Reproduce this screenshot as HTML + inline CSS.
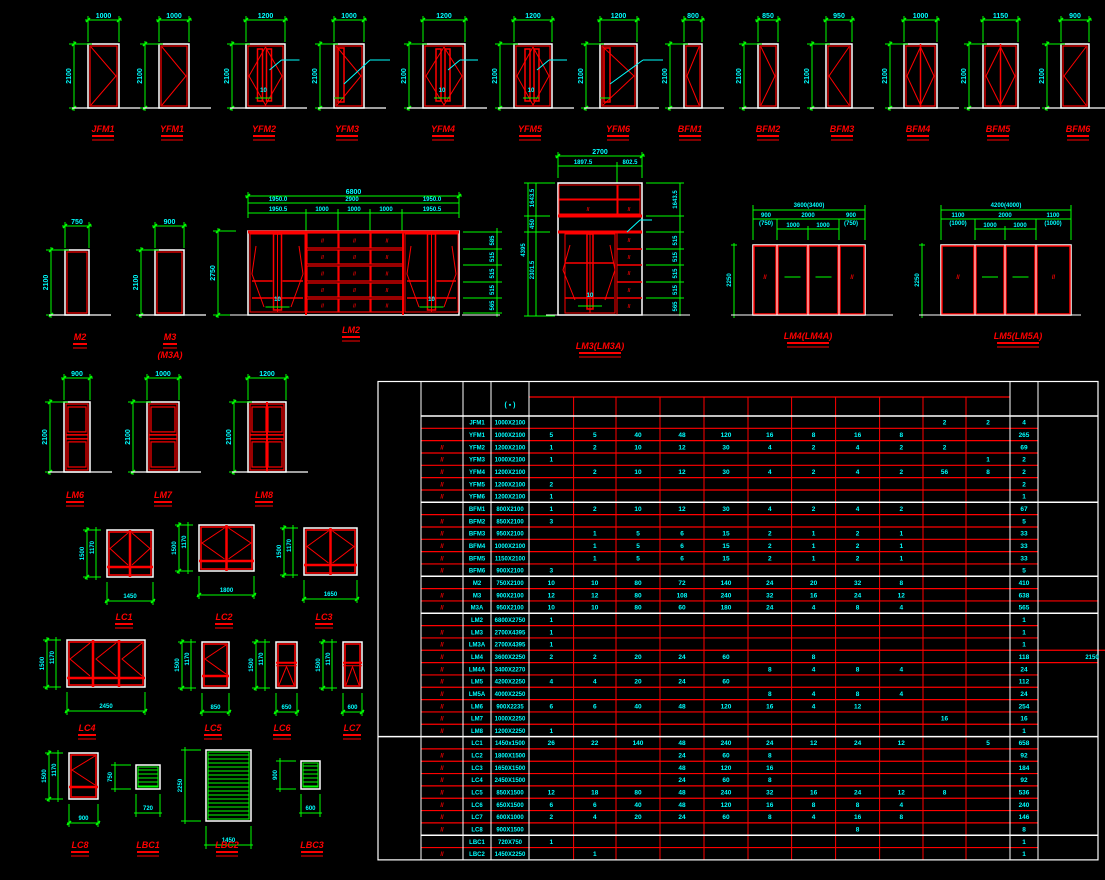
<!DOCTYPE html>
<html><head><meta charset="utf-8"><style>
html,body{margin:0;padding:0;background:#000;width:1105px;height:880px;overflow:hidden}
svg{display:block}
text{font-family:"Liberation Sans",sans-serif;font-weight:bold}
</style></head><body>
<svg id="s" width="1105" height="880" viewBox="0 0 1105 880" xmlns="http://www.w3.org/2000/svg">
<rect width="1105" height="880" fill="#000"/>
</svg>
<script>
var s=document.getElementById('s'),NS='http://www.w3.org/2000/svg';
var G='#00ff00',C='#00ffff',R='#ff0000',W='#ffffff';
function el(t,a,txt){var e=document.createElementNS(NS,t);for(var k in a)e.setAttribute(k,a[k]);if(txt!=null)e.textContent=txt;s.appendChild(e);return e;}
function L(x1,y1,x2,y2,c,w){el('line',{x1:x1,y1:y1,x2:x2,y2:y2,stroke:c,'stroke-width':w||1});}
function RC(x,y,w,h,c,sw,f){el('rect',{x:x,y:y,width:w,height:h,stroke:c,'stroke-width':sw||1,fill:f||'none'});}
function T(x,y,t,c,sz,rot,it){var a={x:x,y:y,fill:c,'font-size':sz||7,'text-anchor':'middle'};if(rot)a.transform='rotate(-90 '+x+' '+y+')';if(it)a['font-style']='italic';el('text',a,t);}
function lab(x,y,t){T(x,y,t,R,9,0,1);var w=t.length*4+6;L(x-w/2,y+4,x+w/2,y+4,R,2);L(x-w/2,y+8,x+w/2,y+8,R,1);}
function tick(x,y){L(x-2,y+2,x+2,y-2,G,1.5);}
function topdim(x1,x2,y,t){L(x1-3,y,x2+3,y,G);L(x1,y-4,x1,y+22,G);L(x2,y-4,x2,y+22,G);tick(x1,y);tick(x2,y);T((x1+x2)/2,y-2,t,C,7);}
function leftdim(x,y1,y2,t){L(x,y1-3,x,y2+3,G);L(x-5,y1,x+18,y1,G);L(x-5,y2,x+18,y2,G);tick(x,y1);tick(x,y2);T(x-3,(y1+y2)/2,t,C,7,1);}
function door(x1,x2,yt,yb,type,lx,ly,name,dim){
 RC(x1,yt,x2-x1,yb-yt,W,1.5);RC(x1+2,yt+2,x2-x1-4,yb-yt-4,R,1.2);
 var ym=(yt+yb)/2,xm=(x1+x2)/2;
 if(type=='v'){el('polyline',{points:(x1+3)+','+(yt+3)+' '+(x2-3)+','+ym+' '+(x1+3)+','+(yb-3),stroke:R,fill:'none'});}
 if(type=='vl'){el('polyline',{points:(x2-3)+','+(yt+3)+' '+(x1+3)+','+ym+' '+(x2-3)+','+(yb-3),stroke:R,fill:'none'});}
 if(type=='d'){L(xm,yt,xm,yb,R,1.5);el('polyline',{points:xm+','+(yt+3)+' '+(x1+3)+','+ym+' '+xm+','+(yb-3),stroke:R,fill:'none'});el('polyline',{points:xm+','+(yt+3)+' '+(x2-3)+','+ym+' '+xm+','+(yb-3),stroke:R,fill:'none'});}
 if(type=='y'){el('polyline',{points:xm+','+(yt+3)+' '+(x1+3)+','+ym+' '+xm+','+(yb-3)+' '+(x2-3)+','+ym+' '+xm+','+(yt+3),stroke:R,fill:'none'});RC(xm-8,yt+5,5,yb-yt-12,R,1.5);RC(xm+1,yt+5,5,yb-yt-12,R,1.5);L(xm+4,ym-6,xm+16,ym-16,C);L(xm+16,ym-16,xm+34,ym-16,C);T(xm-2,yb-16,'10',C,6);L(xm-10,yb-10,xm+6,yb-10,G);}
 if(type=='y1'){el('polyline',{points:(x1+3)+','+(yt+3)+' '+(x2-3)+','+ym+' '+(x1+3)+','+(yb-3),stroke:R,fill:'none'});RC(x1+4,yt+4,6,yb-yt-10,R,1.5);L(x1+10,ym+8,x2+6,ym-16,C);L(x2+6,ym-16,x2+26,ym-16,C);L(x1,yb-10,x1+10,yb-10,G);}
 if(type=='p1'||type=='p2'){var ys=yt+(yb-yt)*0.47;L(x1+2,ys,x2-2,ys,R,1.5);L(x1+2,ys+4,x2-2,ys+4,R,1.5);
   var cols=type=='p2'?[[x1+4,xm-1],[xm+1,x2-4]]:[[x1+4,x2-4]];if(type=='p2')L(xm,yt,xm,yb,R,2);
   cols.forEach(function(c){RC(c[0],yt+5,c[1]-c[0],ys-yt-8,R,1.2);RC(c[0],ys+7,c[1]-c[0],yb-ys-12,R,1.2);});}
 if(dim)topdim(x1,x2,yt-24,dim);
 leftdim(x1-14,yt,yb,'2100');
 L(x1-16,yb,x2+22,yb,W,1.2);
 if(name)lab(lx,ly,name);
}
// Top row
var tr=[[88,119,'v',103,'JFM1','1000'],[159,189,'v',172,'YFM1','1000'],[246,285,'y',264,'YFM2','1200'],[334,364,'y1',347,'YFM3','1000'],[423,465,'y',443,'YFM4','1200'],[514,552,'y',530,'YFM5','1200'],[600,637,'y1',618,'YFM6','1200'],[684,702,'vl',690,'BFM1','800'],[758,778,'v',768,'BFM2','850'],[826,852,'vl',842,'BFM3','950'],[904,937,'d',918,'BFM4','1000'],[983,1018,'d',998,'BFM5','1150'],[1061,1089,'vl',1078,'BFM6','900']];
tr.forEach(function(d){door(d[0],d[1],44,108,d[2],d[3],132,d[4],d[5]);});
// Middle: M2, M3
door(65,89,250,315,'',80,340,'M2','750');
door(155,184,250,315,'',170,340,'M3','900');T(170,358,'(M3A)',R,9,0,1);
// LM2
(function(){var x1=248,x2=459,yt=231,yb=315;
 topdim(x1,x2,196,'6800');L(x1,203,x2,203,G);L(x1,213,x2,213,G);
 [306,338,370,402].forEach(function(x){L(x,209,x,231,G);});
 T(278,201,'1950.0',C,6);T(352,201,'2900',C,6);T(432,201,'1950.0',C,6);T(278,211,'1950.5',C,6);T(322,211,'1000',C,6);T(354,211,'1000',C,6);T(386,211,'1000',C,6);T(432,211,'1950.5',C,6);
 RC(x1,yt,x2-x1,yb-yt,W,1.5);L(x1,yt+1,x2,yt+1,R,3);
 [[250,305],[405,458]].forEach(function(p){RC(p[0],yt+3,p[1]-p[0],yb-yt-6,R,1);var m=(p[0]+p[1])/2;RC(m-4,yt+3,8,yb-yt-8,R,1.5);L(m,yt+3,m,yb-3,R);
  el('polyline',{points:(p[0]+6)+','+(yt+15)+' '+(p[0]+2)+','+(yt+43)+' '+(p[0]+14)+','+(yb-8),stroke:R,fill:'none'});
  el('polyline',{points:(p[1]-6)+','+(yt+15)+' '+(p[1]-2)+','+(yt+43)+' '+(p[1]-14)+','+(yb-8),stroke:R,fill:'none'});
  L(p[0]+2,yt+50,m-5,yt+50,R,1.5);L(m+5,yt+50,p[1]-2,yt+50,R,1.5);L(p[0]+2,yt+67,p[1]-2,yt+67,R,1.5);
  T(m,yb-14,'10',C,6);L(m-12,yb-8,m+12,yb-8,G);});
 var ys=[232,249,265,282,298,313];
 [[307,338],[339,370],[371,403]].forEach(function(c){ys.forEach(function(y,i){if(i<5){RC(c[0],y+1,c[1]-c[0],ys[i+1]-y-2,R,1.2);T((c[0]+c[1])/2,(y+ys[i+1])/2+2,'//',R,5);}});});
 L(306,yt,306,yb,R,2);L(403,yt,403,yb,R,2);
 leftdim(218,yt,yb,'2750');
 ys.forEach(function(y){L(463,y,502,y,G);});L(497,228,497,317,G);
 ['585','515','515','515','565'].forEach(function(t,i){T(494,(ys[i]+ys[i+1])/2,t,C,6,1);});
 L(230,yb,262,yb,W);L(462,yb,500,yb,W);lab(351,333,'LM2');})();
// LM3
(function(){var x1=558,x2=642,yt=183,yb=315;
 topdim(x1,x2,156,'2700');L(x1,166,x2,166,G);L(617,162,617,183,G);T(583,164,'1897.5',C,6);T(630,164,'802.5',C,6);
 RC(x1,yt,x2-x1,yb-yt,W,1.5);RC(x1+1,yt+2,58,14,R);RC(x1+1,yt+17,58,14,R);RC(618,yt+2,22,14,R);RC(618,yt+17,22,14,R);L(x1,216,x2,216,R,3);L(x1,232,x2,232,R,3);
 T(588,211,'//',R,5);T(629,211,'//',R,5);
 RC(565,234,50,79,R);var m=590;RC(m-3,234,6,75,R,1.5);L(m,234,m,313,R);L(565,263,614,263,R,1.5);L(565,298,614,298,R,1.5);
 el('polyline',{points:'570,245 563,270 575,300',stroke:R,fill:'none'});el('polyline',{points:'610,245 615,270 605,300',stroke:R,fill:'none'});
 T(m,297,'10',C,6);L(578,306,602,306,G);
 L(617,232,617,315,R);[249,265,282,298].forEach(function(y){L(617,y,642,y,R,1.5);});[240,257,273,290,306].forEach(function(y){T(629,y+2,'//',R,5);});
 L(627,232,640,220,C);L(640,220,652,220,C);
 L(528,183,528,316,G);L(536,183,536,316,G);L(524,183,555,183,G);L(524,316,555,316,G);L(524,216,550,216,G);L(524,232,550,232,G);
 T(525,250,'4395',C,6,1);T(534,198,'1643.5',C,6,1);T(534,224,'450',C,6,1);T(534,270,'2301.5',C,6,1);
 [183,216,232,249,265,282,298,315].forEach(function(y){L(646,y,684,y,G);});L(680,183,680,316,G);
 ['1643.5','','515','515','515','515','565'].forEach(function(t,i){var a=[183,216,232,249,265,282,298,315];if(t)T(677,(a[i]+a[i+1])/2,t,C,6,1);});
 L(546,315,690,315,W);lab(600,349,'LM3(LM3A)');})();
// LM4 / LM5
function slid(x1,x2,yt,yb,ps,dtot,subs,name,lx){
 RC(x1,yt,x2-x1,yb-yt,W,1.5);
 for(var i=0;i<ps.length-1;i++){RC(ps[i]+1,yt+1,ps[i+1]-ps[i]-2,yb-yt-2,R,1.5);if(i>0)L(ps[i],yt,ps[i],yb,W);
  var cx=(ps[i]+ps[i+1])/2;if(i==0||i==ps.length-2)T(cx,279,'//',R,6);else{L(cx-8,277,cx+8,277,G);}}
 L(x1,210,x2,210,G);L(x1,205,x1,240,G);L(x2,205,x2,240,G);T((x1+x2)/2,207,dtot,C,6);
 L(x1,219,x2,219,G);L(ps[1],219,ps[1],240,G);L(ps[ps.length-2],219,ps[ps.length-2],240,G);L(ps[1],229,ps[ps.length-2],229,G);L(ps[2],226,ps[2],240,G);
 subs.forEach(function(q){T(q[0],q[1],q[2],C,6);});
 L(x1-22,yt,x1-16,yt,G);L(x1-19,yt-2,x1-19,yb+3,G);T(x1-22,(yt+yb)/2,'2250',C,6,1);L(x1-22,yb,x1+140,yb,W);
 lab(lx,339,name);}
slid(753,865,245,315,[753,777,808,839,865],'3600(3400)',[[766,217,'900'],[766,225,'(750)'],[808,217,'2000'],[851,217,'900'],[851,225,'(750)'],[793,227,'1000'],[823,227,'1000']],'LM4(LM4A)',808);
slid(941,1071,245,315,[941,975,1005,1036,1071],'4200(4000)',[[958,217,'1100'],[958,225,'(1000)'],[1005,217,'2000'],[1053,217,'1100'],[1053,225,'(1000)'],[990,227,'1000'],[1020,227,'1000']],'LM5(LM5A)',1018);
// LM6-8
door(64,90,402,472,'p1',75,498,'LM6','900');
door(147,179,402,472,'p1',163,498,'LM7','1000');
door(248,286,402,472,'p2',264,498,'LM8','1200');
// Windows
function win(x1,x2,yt,yb,type,name,lx,ly,dim){
 RC(x1,yt,x2-x1,yb-yt,W,1.5);RC(x1+2,yt+2,x2-x1-4,yb-yt-4,R,1.5);
 var xm=(x1+x2)/2,ym=(yt+yb)/2;
 if(type=='2'){L(xm,yt,xm,yb,R,2.5);var yh=yb-10;L(x1,yh,x2,yh,R,2.5);
  el('polyline',{points:(xm-2)+','+(yt+3)+' '+(x1+3)+','+(yt+(yh-yt)/2)+' '+(xm-2)+','+(yh-2),stroke:R,fill:'none'});
  el('polyline',{points:(xm+2)+','+(yt+3)+' '+(x2-3)+','+(yt+(yh-yt)/2)+' '+(xm+2)+','+(yh-2),stroke:R,fill:'none'});}
 if(type=='3'){var w=(x2-x1)/3;L(x1+w,yt,x1+w,yb,R,2.5);L(x1+2*w,yt,x1+2*w,yb,R,2.5);var yh=yb-9;L(x1,yh,x2,yh,R,2.5);
  for(var i=0;i<3;i++){var a=x1+i*w;el('polyline',{points:(a+w-3)+','+(yt+3)+' '+(a+3)+','+(yt+(yh-yt)/2)+' '+(a+w-3)+','+(yh-2),stroke:R,fill:'none'});}}
 if(type=='1'){var yh=yb-12;L(x1,yh,x2,yh,R,2.5);el('polyline',{points:(x2-3)+','+(yt+3)+' '+(x1+3)+','+(yt+(yh-yt)/2)+' '+(x2-3)+','+(yh-2),stroke:R,fill:'none'});}
 if(type=='a'){var yh=yt+(yb-yt)*0.45;L(x1,yh,x2,yh,R,2);L(x1,yh+3,x2,yh+3,R,1);el('polyline',{points:(x1+3)+','+(yb-3)+' '+xm+','+(yh+4)+' '+(x2-3)+','+(yb-3),stroke:R,fill:'none'});}
 L(x1-24,yt,x1-6,yt,G);L(x1-24,yb,x1-6,yb,G);L(x1-20,yt-3,x1-20,yb+3,G);L(x1-11,yt-3,x1-11,yb+3,G);tick(x1-20,yt);tick(x1-20,yb);
 T(x1-23,ym,'1500',C,6,1);T(x1-13,ym-6,'1170',C,6,1);
 L(x1,yb+5,x1,yb+28,G);L(x2,yb+5,x2,yb+28,G);L(x1-2,yb+24,x2+2,yb+24,G);tick(x1,yb+24);tick(x2,yb+24);T(xm,yb+21,dim,C,6);
 lab(lx,ly,name);}
win(107,153,530,577,'2','LC1',124,620,'1450');
win(199,254,525,571,'2','LC2',224,620,'1800');
win(304,357,528,575,'2','LC3',324,620,'1650');
win(67,145,640,687,'3','LC4',87,731,'2450');
win(202,229,642,688,'1','LC5',213,731,'850');
win(276,297,642,688,'a','LC6',282,731,'650');
win(343,362,642,688,'a','LC7',352,731,'600');
win(69,98,753,799,'1','LC8',80,848,'900');
function louv(x1,x2,yt,yb,name,lx,dim,hd){RC(x1,yt,x2-x1,yb-yt,W,1.5);RC(x1+2,yt+2,x2-x1-4,yb-yt-4,G,1);for(var y=yt+5;y<yb-2;y+=4)L(x1+2,y,x2-2,y,G);
 L(x1-25,yt,x1-5,yt,G);L(x1-25,yb,x1-5,yb,G);L(x1-21,yt-3,x1-21,yb+3,G);T(x1-24,(yt+yb)/2,hd,C,6,1);
 L(x1,yb+5,x1,yb+28,G);L(x2,yb+5,x2,yb+28,G);L(x1-2,yb+24,x2+2,yb+24,G);T((x1+x2)/2,yb+21,dim,C,6);lab(lx,848,name);}
louv(136,160,765,789,'LBC1',148,'720','750');
louv(206,251,750,821,'LBC2',227,'1450','2250');
louv(301,320,761,789,'LBC3',312,'600','900');
// Table
var X0=378,XT=1098,cx=[421,463,491,529,573.6,616,660,704,748,791.6,835.6,879.6,923,966,1010,1038];
var Y0=416,RH=12.33;
var rows=[
['','JFM1','1000X2100',['','','','','','','','','','2','2'],'4'],
['','YFM1','1000X2100',['5','5','40','48','120','16','8','16','8','',''],'265'],
['/','YFM2','1200X2100',['1','2','10','12','30','4','2','4','2','2',''],'69'],
['/','YFM3','1000X2100',['1','','','','','','','','','','1'],'2'],
['/','YFM4','1200X2100',['','2','10','12','30','4','2','4','2','56','8'],'2'],
['/','YFM5','1200X2100',['2'],'2'],
['/','YFM6','1200X2100',['1'],'1'],
['','BFM1','800X2100',['1','2','10','12','30','4','2','4','2'],'67'],
['/','BFM2','850X2100',['3'],'5'],
['/','BFM3','950X2100',['','1','5','6','15','2','1','2','1'],'33'],
['/','BFM4','1000X2100',['','1','5','6','15','2','1','2','1'],'33'],
['/','BFM5','1150X2100',['','1','5','6','15','2','1','2','1'],'33'],
['/','BFM6','900X2100',['3'],'5'],
['','M2','750X2100',['10','10','80','72','140','24','20','32','8'],'410'],
['/','M3','900X2100',['12','12','80','108','240','32','16','24','12'],'638'],
['/','M3A','950X2100',['10','10','80','60','180','24','4','8','4'],'565'],
['','LM2','6800X2750',['1'],'1'],
['/','LM3','2700X4395',['1'],'1'],
['/','LM3A','2700X4395',['1'],'1'],
['/','LM4','3600X2250',['2','2','20','24','60','','8'],'118'],
['/','LM4A','3400X2270',['','','','','','8','4','8','4'],'24'],
['/','LM5','4200X2250',['4','4','20','24','60'],'112'],
['/','LM5A','4000X2250',['','','','','','8','4','8','4'],'24'],
['/','LM6','900X2235',['6','6','40','48','120','16','4','12'],'254'],
['/','LM7','1000X2250',['','','','','','','','','','16'],'16'],
['/','LM8','1200X2250',['1'],'1'],
['','LC1','1450x1500',['26','22','140','48','240','24','12','24','12','','5'],'658'],
['/','LC2','1800X1500',['','','','24','60','8'],'92'],
['/','LC3','1650X1500',['','','','48','120','16'],'184'],
['/','LC4','2450X1500',['','','','24','60','8'],'92'],
['/','LC5','850X1500',['12','18','80','48','240','32','16','24','12','8'],'536'],
['/','LC6','650X1500',['6','6','40','48','120','16','8','8','4'],'240'],
['/','LC7','600X1000',['2','4','20','24','60','8','4','16','8'],'146'],
['/','LC8','900X1500',['','','','','','','','8'],'8'],
['','LBC1','720X750',['1'],'1'],
['/','LBC2','1450X2250',['','1'],'1']];
var YB=Y0+rows.length*RH;
// red horizontals
for(var i=1;i<rows.length;i++){var y=Y0+i*RH;L(421,y,1038,y,R,1.2);}
L(1038,Y0+19*RH,1105,Y0+19*RH,R,1.2);L(1038,Y0+20*RH,1098,Y0+20*RH,R,1.2);
L(1038,Y0+15*RH,1098,Y0+15*RH,R,1.2);L(1038,Y0+16*RH,1098,Y0+16*RH,R,1.2);
// red verticals
for(var j=4;j<14;j++)L(cx[j],397,cx[j],YB,R,1);
L(529,397,1010,397,R,1.2);
// white lines
RC(X0,381.5,XT-X0,YB-381.5,W,1.2);
[421,463,491,529,1010,1038].forEach(function(x){L(x,381.5,x,YB,W,1);});
L(421,Y0,XT,Y0,W,1.5);
[7,13,16,34].forEach(function(k){L(421,Y0+k*RH,XT,Y0+k*RH,W,1.5);});
L(X0,Y0+26*RH,XT,Y0+26*RH,W,1.5);
T(510,407,'(   ▪   )',C,7);
rows.forEach(function(r,i){var y=Y0+i*RH+RH/2+2.5;
 if(r[0])T(442,y,'//',R,6);
 T(477,y,r[1],C,6);T(510,y,r[2],C,6);
 r[3].forEach(function(v,k){if(v)T((cx[3+k]+cx[4+k])/2,y,v,C,6.5);});
 T(1024,y,r[4],C,6.5);});
T(1092,Y0+19*RH+RH/2+2.5,'2150',C,6);
</script>
</body></html>
